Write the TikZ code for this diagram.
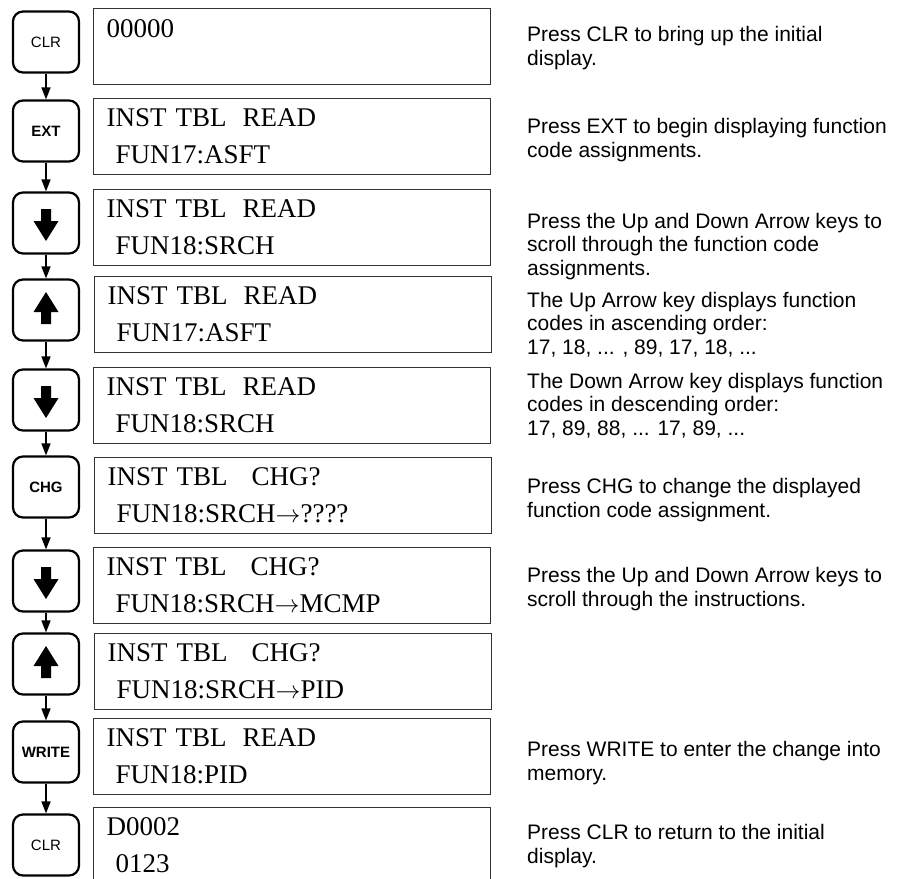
\documentclass[tikz,border=0pt]{standalone}
\usepackage{fontspec}
\usepackage{tikz}
\usetikzlibrary{arrows.meta}
\setmainfont{Liberation Serif}
\setsansfont{Liberation Sans}
\definecolor{lcdline}{HTML}{333333}
\newcommand{\lcdfont}{\fontsize{27}{37}\selectfont}
\newcommand{\notefont}{\sffamily\fontsize{21}{23.5}\selectfont}
\newcommand{\keyfont}{\sffamily\fontsize{15}{18}\selectfont}
\newcommand{\rd}{\hspace{16pt}READ}
\newcommand{\chg}{\hspace{24pt}CHG?}
\newcommand{\lcdarrow}{$\rightarrow$}
\newcommand{\keyarrow}[2]{\fill[shift={(#1.center)}, yscale=#2]
  (-5,-14) -- (5,-14) -- (5,-2) -- (12.5,-2) -- (0,18) -- (-12.5,-2) -- (-5,-2) -- cycle;}

\tikzset{
  keybox/.style={draw, line width=2.2pt, rounded corners=10pt, minimum width=66pt,
    minimum height=61pt, inner sep=0pt, font=\keyfont},
  lcdbox/.style={draw=lcdline, line width=1.2pt, anchor=north west, minimum width=397pt,
    minimum height=76pt, text width=371pt, inner xsep=13pt, inner ysep=0pt,
    align=left, font=\lcdfont},
  note/.style={anchor=base west, inner sep=0pt, align=left, font=\notefont},
  flow/.style={line width=1.6pt, -{Triangle[length=12pt,width=9pt]}},
}

\begin{document}
\begin{tikzpicture}[x=1pt, y=-1pt]
\useasboundingbox (0,0) rectangle (901,878);
\clip (0,0) rectangle (901,878);

\node[keybox] (k1) at (46,42) {CLR};
\node[keybox] (k2) at (46,131) {\bfseries EXT};
\node[keybox] (k3) at (46,223) {};
\node[keybox] (k4) at (46,310) {};
\node[keybox] (k5) at (46,400) {};
\node[keybox] (k6) at (46,487) {\bfseries CHG};
\node[keybox] (k7) at (46,581) {};
\node[keybox] (k8) at (46,664) {};
\node[keybox] (k9) at (46,752) {\bfseries WRITE};
\node[keybox] (k10) at (46,845) {CLR};
\keyarrow{k3}{1}
\keyarrow{k4}{-1}
\keyarrow{k5}{1}
\keyarrow{k7}{1}
\keyarrow{k8}{-1}

\foreach \a/\b in {k1/k2, k2/k3, k3/k4, k4/k5, k5/k6, k6/k7, k7/k8, k8/k9, k9/k10}
  \draw[flow] (\a) -- (\b);

\node[lcdbox] (s1) at (93,8) {00000\\ \mbox{}};
\node[lcdbox] (s2) at (93,98) {INST TBL\rd\\~FUN17:ASFT};
\node[lcdbox] (s3) at (93,189) {INST TBL\rd\\~FUN18:SRCH};
\node[lcdbox] (s4) at (94,276) {INST TBL\rd\\~FUN17:ASFT};
\node[lcdbox] (s5) at (93,367) {INST TBL\rd\\~FUN18:SRCH};
\node[lcdbox] (s6) at (94,457) {INST TBL\chg\\~FUN18:SRCH\lcdarrow????};
\node[lcdbox] (s7) at (93,547) {INST TBL\chg\\~FUN18:SRCH\lcdarrow MCMP};
\node[lcdbox] (s8) at (94,633) {INST TBL\chg\\~FUN18:SRCH\lcdarrow PID};
\node[lcdbox] (s9) at (93,718) {INST TBL\rd\\~FUN18:PID};
\node[lcdbox] (s10) at (93,807) {D0002\\~0123};

\node[note] (n1) at (527,65) {Press CLR to bring up the initial\\display.};
\node[note] (n2) at (527,157) {Press EXT to begin displaying function\\code assignments.};
\node[note] (n3) at (527,275) {Press the Up and Down Arrow keys to\\scroll through the function code\\assignments.};
\node[note] (n4) at (527,354) {The Up Arrow key displays function\\codes in ascending order:\\17, 18, ... , 89, 17, 18, ...};
\node[note] (n5) at (527,435) {The Down Arrow key displays function\\codes in descending order:\\17, 89, 88, ... 17, 89, ...};
\node[note] (n6) at (527,517) {Press CHG to change the displayed\\function code assignment.};
\node[note] (n7) at (527,606) {Press the Up and Down Arrow keys to\\scroll through the instructions.};
\node[note] (n9) at (527,780) {Press WRITE to enter the change into\\memory.};
\node[note] (n10) at (527,863) {Press CLR to return to the initial\\display.};
\end{tikzpicture}
\end{document}
